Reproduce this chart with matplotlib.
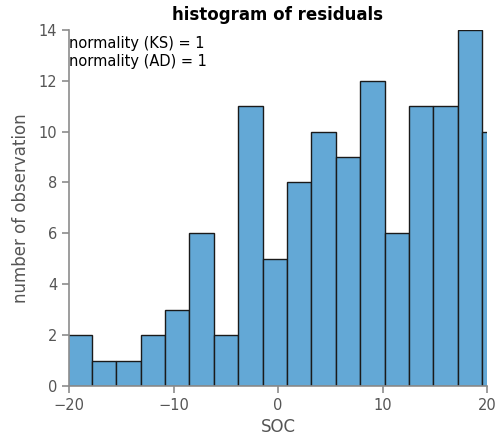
import numpy as np
import matplotlib.pyplot as plt

# histogram counts per bin (left to right) and the bin layout
counts = [2, 1, 1, 2, 3, 6, 2, 11, 5, 8, 10, 9, 12, 6, 11, 11, 14, 10]
bin_start = -20.16
bin_width = 2.336
notes = ["normality (KS) = 1", "normality (AD) = 1"]

edges = bin_start + bin_width * np.arange(len(counts) + 1)

fig = plt.figure(figsize=(5, 4.48), dpi=100)
ax = fig.add_axes([0.138, 0.1384, 0.836, 0.795])

ax.bar(edges[:-1], counts, width=bin_width, align='edge',
       color='#63a8d6', edgecolor='#1a1a1a', linewidth=1.0)

ax.set_xlim(-20, 20)
ax.set_ylim(0, 14)
ax.set_xticks([-20, -10, 0, 10, 20])
ax.set_yticks(range(0, 15, 2))

for side in ['top', 'right']:
    ax.spines[side].set_visible(False)
for side in ['left', 'bottom']:
    ax.spines[side].set_color('#8c8c8c')
    ax.spines[side].set_linewidth(1.2)
ax.tick_params(colors='#8c8c8c', labelcolor='#555555', labelsize=10.5,
               length=5, width=1.2, direction='out')

ax.set_xlabel('SOC', fontsize=12, color='#555555', labelpad=4)
ax.set_ylabel('number of observation', fontsize=12, color='#555555', labelpad=6)
ax.set_title('histogram of residuals', fontsize=12, fontweight='bold', pad=7)

ax.text(0.0, 0.984, '\n'.join(notes), transform=ax.transAxes,
        ha='left', va='top', fontsize=10.5, linespacing=1.3)

fig.savefig('out.png', dpi=100)
